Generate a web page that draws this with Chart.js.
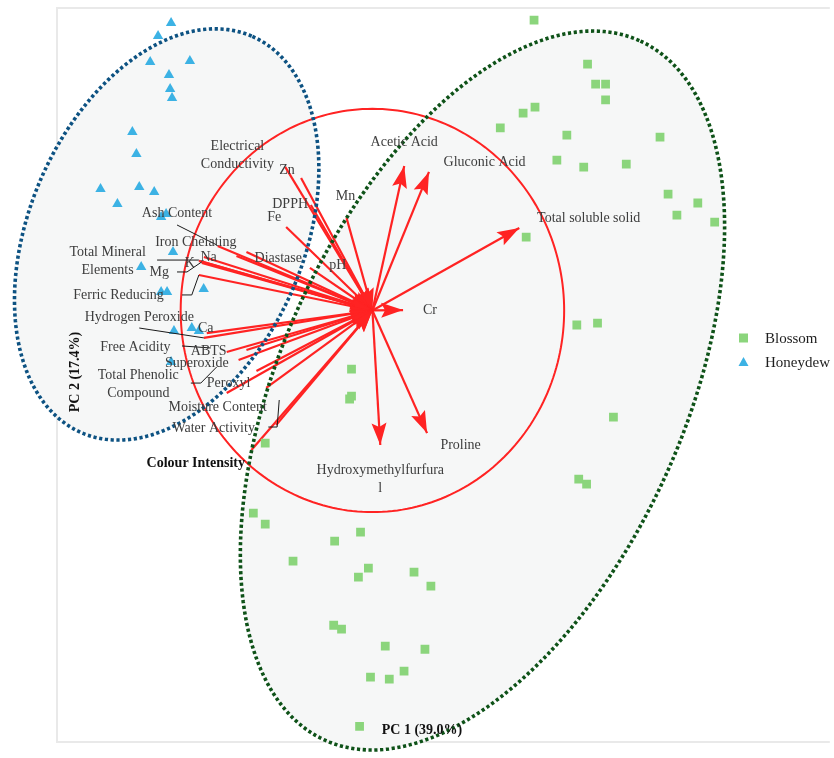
<!DOCTYPE html>
<html>
<head>
<meta charset="utf-8">
<title>PCA biplot – Blossom and Honeydew honey</title>
<script src="https://cdn.jsdelivr.net/npm/chart.js@4/dist/chart.umd.min.js"></script>
<style>
  html, body { margin: 0; padding: 0; background: #ffffff; }
  #wrap { width: 834px; height: 758px; }
</style>
</head>
<body>
<div id="wrap"><canvas id="biplot" width="834" height="758"></canvas></div>
<script>
// ---- Sample scores (PC1, PC2) ----
const blossomPC1 = [0.843, 1.122, 1.164, 1.216, 1.216, 0.786, 0.848, 0.667, 1.014, 1.500,
  0.962, 1.102, 1.324, 1.542, 1.697, 1.588, 1.785, 0.802, 1.066, 1.174,
  1.257, 1.076, 1.117, -0.109, -0.109, -0.119, -0.559, -0.621, -0.559, -0.197,
  -0.062, -0.414, -0.021, -0.073, 0.217, 0.305, -0.202, -0.161, 0.067, 0.274,
  -0.010, 0.088, 0.165, -0.067];
const blossomPC2 = [1.440, 1.222, 1.123, 1.123, 1.044, 0.979, 1.009, 0.905, 0.870, 0.860,
  0.746, 0.711, 0.726, 0.577, 0.533, 0.473, 0.438, 0.364, -0.072, -0.063,
  -0.529, -0.836, -0.861, -0.291, -0.425, -0.439, -0.658, -1.005, -1.060, -1.144,
  -1.099, -1.243, -1.278, -1.322, -1.298, -1.367, -1.561, -1.580, -1.665, -1.680,
  -1.818, -1.828, -1.789, -2.062];

const honeydewPC1 = [-1.050, -1.118, -1.159, -0.952, -1.061, -1.055, -1.045, -1.252, -1.231, -1.418,
  -1.216, -1.138, -1.330, -1.102, -1.076, -1.040, -1.206, -1.102, -1.071, -0.880,
  -1.035, -0.942, -0.905, -1.050];
const honeydewPC2 = [1.426, 1.361, 1.232, 1.237, 1.168, 1.098, 1.054, 0.885, 0.776, 0.602,
  0.612, 0.587, 0.528, 0.463, 0.478, 0.290, 0.215, 0.091, 0.091, 0.106,
  -0.102, -0.087, -0.102, -0.256];

// ---- Variable loadings (PC1, PC2) ----
const variables = ['Zn', 'Electrical Conductivity', 'DPPH', 'Fe', 'Mn', 'pH',
  'Ash Content', 'Iron Chelating', 'Diastase', 'Total Mineral Elements', 'Na', 'K', 'Mg',
  'Ferric Reducing', 'Hydrogen Peroxide', 'Ca', 'Free Acidity', 'ABTS', 'Superoxide',
  'Total Phenolic Compound', 'Peroxyl', 'Moisture Content', 'Water Activity', 'Colour Intensity',
  'Acetic Acid', 'Gluconic Acid', 'Total soluble solid', 'Cr', 'Hydroxymethylfurfural', 'Proline'];
const loadingPC1 = [-0.455, -0.372, -0.321, -0.450, -0.135, -0.326,
  -0.807, -0.709, -0.657, -0.905, -0.879, -0.890, -0.885,
  -0.905, -0.879, -0.864, -0.657, -0.760, -0.698,
  -0.605, -0.760, -0.554, -0.502, -0.631,
  0.166, 0.295, 0.766, 0.160, 0.041, 0.285];
const loadingPC2 = [0.712, 0.657, 0.523, 0.414, 0.459, 0.211,
  0.320, 0.270, 0.290, 0.246, 0.265, 0.236, 0.241,
  0.176, -0.136, -0.112, -0.196, -0.206, -0.246,
  -0.300, -0.409, -0.384, -0.568, -0.692,
  0.717, 0.687, 0.409, 0.002, -0.667, -0.608];

const axisTitles = ['PC 1 (39.0%)', 'PC 2 (17.4%)'];
const groups = ['Blossom', 'Honeydew'];

// ---- Layout of annotations (data units) ----
const labelPlacement = {
  'Electrical Conductivity': { lines: ['Electrical', 'Conductivity'], x: -0.704, y: 0.771 },
  'Zn': { x: -0.445, y: 0.697 },
  'DPPH': { x: -0.429, y: 0.528 },
  'Fe': { x: -0.512, y: 0.464 },
  'Mn': { x: -0.140, y: 0.568 },
  'Ash Content': { x: -1.019, y: 0.484 },
  'Iron Chelating': { x: -0.921, y: 0.340 },
  'Total Mineral Elements': { lines: ['Total Mineral', 'Elements'], x: -1.381, y: 0.243 },
  'Na': { x: -0.854, y: 0.265 },
  'K': { x: -0.952, y: 0.236 },
  'Mg': { x: -1.112, y: 0.191 },
  'Ferric Reducing': { x: -1.324, y: 0.077 },
  'Hydrogen Peroxide': { x: -1.216, y: -0.032 },
  'Ca': { x: -0.869, y: -0.087 },
  'Free Acidity': { x: -1.236, y: -0.181 },
  'ABTS': { x: -0.854, y: -0.201 },
  'Superoxide': { x: -0.916, y: -0.260 },
  'Total Phenolic Compound': { lines: ['Total Phenolic', 'Compound'], x: -1.221, y: -0.365 },
  'Peroxyl': { x: -0.750, y: -0.360 },
  'Moisture Content': { x: -0.807, y: -0.479 },
  'Water Activity': { x: -0.828, y: -0.583 },
  'Colour Intensity': { x: -0.921, y: -0.756, bold: true },
  'Diastase': { x: -0.491, y: 0.260 },
  'pH': { x: -0.181, y: 0.226 },
  'Acetic Acid': { x: 0.166, y: 0.836 },
  'Gluconic Acid': { x: 0.585, y: 0.737 },
  'Total soluble solid': { x: 1.128, y: 0.459 },
  'Cr': { x: 0.300, y: 0.002 },
  'Proline': { x: 0.460, y: -0.667 },
  'Hydroxymethylfurfural': { lines: ['Hydroxymethylfurfura', 'l'], x: 0.041, y: -0.836 }
};

// connector lines between some labels and their vectors
const leaderLines = [
  [[-1.019, 0.424], [-0.812, 0.325]],
  [[-1.123, 0.250], [-0.905, 0.250]],
  [[-1.019, 0.191], [-0.967, 0.191], [-0.890, 0.241]],
  [[-0.993, 0.077], [-0.942, 0.077], [-0.905, 0.176]],
  [[-1.216, -0.087], [-0.879, -0.136]],
  [[-0.993, -0.176], [-0.843, -0.186]],
  [[-0.947, -0.360], [-0.895, -0.360], [-0.812, -0.280]],
  [[-0.543, -0.578], [-0.497, -0.578], [-0.486, -0.444]]
];

// group ellipses: centre plus two conjugate semi-axis vectors
const groupEllipses = [
  { cx: 0.574, cy: -0.397, ux: 0.824, uy: 1.733, vx: 0.957, vy: -0.418, color: '#0e5218' },
  { cx: -1.073, cy: 0.377, ux: 0.447, uy: 0.982, vx: 0.656, vy: -0.275, color: '#0d5282' }
];
const correlationCircle = { cx: 0, cy: 0, ux: 1, uy: 0, vx: 0, vy: 1 };

const RED = '#ff2323';
const SERIF = '"Liberation Serif", "Times New Roman", serif';
const BLOSSOM = '#8bd57c';
const HONEYDEW = '#3cb2e4';

function ellipsePath(ctx, xs, ys, e) {
  ctx.beginPath();
  const n = 240;
  for (let k = 0; k <= n; k++) {
    const t = 2 * Math.PI * k / n;
    const x = e.cx + e.ux * Math.cos(t) + e.vx * Math.sin(t);
    const y = e.cy + e.uy * Math.cos(t) + e.vy * Math.sin(t);
    const px = xs.getPixelForValue(x), py = ys.getPixelForValue(y);
    if (k === 0) ctx.moveTo(px, py); else ctx.lineTo(px, py);
  }
  ctx.closePath();
}

const underlayPlugin = {
  id: 'underlay',
  beforeDatasetsDraw(chart) {
    const { ctx, chartArea: a, scales: { x: xs, y: ys } } = chart;
    ctx.save();
    // frame
    ctx.strokeStyle = '#e9e9e9';
    ctx.lineWidth = 2;
    ctx.beginPath();
    ctx.moveTo(a.right + 2, a.top); ctx.lineTo(a.left, a.top);
    ctx.lineTo(a.left, a.bottom); ctx.lineTo(a.right + 2, a.bottom);
    ctx.stroke();
    // ellipse fills
    ctx.fillStyle = '#f6f7f7';
    groupEllipses.forEach(e => { ellipsePath(ctx, xs, ys, e); ctx.fill(); });
    // correlation circle
    ctx.strokeStyle = RED;
    ctx.lineWidth = 2;
    ellipsePath(ctx, xs, ys, correlationCircle);
    ctx.stroke();
    ctx.restore();
  }
};

const overlayPlugin = {
  id: 'overlay',
  afterDatasetsDraw(chart) {
    const { ctx, scales: { x: xs, y: ys } } = chart;
    const X = v => xs.getPixelForValue(v), Y = v => ys.getPixelForValue(v);
    ctx.save();
    // arrowheads: outward for positive PC1 loadings, inward otherwise
    ctx.fillStyle = RED;
    const ox = X(0), oy = Y(0);
    variables.forEach((name, i) => {
      const tx = X(loadingPC1[i]), ty = Y(loadingPC2[i]);
      let hx, hy, dx, dy;
      if (loadingPC1[i] > 0) { hx = tx; hy = ty; dx = tx - ox; dy = ty - oy; }
      else { hx = ox; hy = oy; dx = ox - tx; dy = oy - ty; }
      const len = Math.hypot(dx, dy);
      const ux = dx / len, uy = dy / len;
      const L = 22, W = 7.5;
      ctx.beginPath();
      ctx.moveTo(hx, hy);
      ctx.lineTo(hx - ux * L - uy * W, hy - uy * L + ux * W);
      ctx.lineTo(hx - ux * L * 0.82, hy - uy * L * 0.82);
      ctx.lineTo(hx - ux * L + uy * W, hy - uy * L - ux * W);
      ctx.closePath();
      ctx.fill();
    });
    // dotted group ellipses
    ctx.lineWidth = 3.6;
    ctx.setLineDash([3.2, 2.6]);
    groupEllipses.forEach(e => {
      ctx.strokeStyle = e.color;
      ellipsePath(ctx, xs, ys, e);
      ctx.stroke();
    });
    ctx.setLineDash([]);
    // connector lines
    ctx.strokeStyle = '#1a1a1a';
    ctx.lineWidth = 1;
    leaderLines.forEach(pts => {
      ctx.beginPath();
      pts.forEach((p, k) => { if (k === 0) ctx.moveTo(X(p[0]), Y(p[1])); else ctx.lineTo(X(p[0]), Y(p[1])); });
      ctx.stroke();
    });
    // variable labels
    ctx.textAlign = 'center';
    ctx.textBaseline = 'middle';
    variables.forEach(name => {
      const p = labelPlacement[name];
      if (!p) return;
      const lines = p.lines || [name];
      ctx.font = (p.bold ? 'bold 14px ' : '14px ') + SERIF;
      ctx.fillStyle = p.bold ? '#111111' : '#3d3d3d';
      const lh = 18;
      lines.forEach((t, k) => {
        ctx.fillText(t, X(p.x), Y(p.y) + (k - (lines.length - 1) / 2) * lh);
      });
    });
    // axis titles
    ctx.fillStyle = '#111111';
    ctx.font = 'bold 14px ' + SERIF;
    ctx.fillText(axisTitles[0], 422, 730);
    ctx.save();
    ctx.translate(75, 372);
    ctx.rotate(-Math.PI / 2);
    ctx.fillText(axisTitles[1], 0, 0);
    ctx.restore();
    // legend
    ctx.textAlign = 'left';
    ctx.font = '15px ' + SERIF;
    const legendY = [338, 362];
    ctx.fillStyle = BLOSSOM;
    ctx.fillRect(739, legendY[0] - 4.5, 9, 9);
    ctx.fillStyle = HONEYDEW;
    ctx.beginPath();
    ctx.moveTo(743.5, legendY[1] - 5); ctx.lineTo(748.5, legendY[1] + 4); ctx.lineTo(738.5, legendY[1] + 4);
    ctx.closePath(); ctx.fill();
    ctx.fillStyle = '#1e1e1e';
    ctx.fillText(groups[0], 765, legendY[0] + 1);
    ctx.fillText(groups[1], 765, legendY[1] + 1);
    ctx.restore();
  }
};

const vectorDatasets = variables.map((name, i) => ({
  label: name,
  data: [{ x: 0, y: 0 }, { x: loadingPC1[i], y: loadingPC2[i] }],
  showLine: true,
  borderColor: RED,
  borderWidth: 2.2,
  pointRadius: 0,
  clip: false
}));

new Chart(document.getElementById('biplot'), {
  type: 'scatter',
  data: {
    datasets: [
      {
        label: groups[0],
        data: blossomPC1.map((v, i) => ({ x: v, y: blossomPC2[i] })),
        pointStyle: 'rect',
        pointRadius: 6.2,
        backgroundColor: BLOSSOM,
        borderWidth: 0
      },
      {
        label: groups[1],
        data: honeydewPC1.map((v, i) => ({ x: v, y: honeydewPC2[i] })),
        pointStyle: 'triangle',
        pointRadius: 6,
        backgroundColor: HONEYDEW,
        borderWidth: 0
      },
      ...vectorDatasets
    ]
  },
  options: {
    responsive: false,
    animation: false,
    layout: { padding: { left: 57, top: 8, right: 0, bottom: 16 } },
    scales: {
      x: { type: 'linear', min: -1.645, max: 2.375, display: false },
      y: { type: 'linear', min: -2.14, max: 1.5, display: false }
    },
    plugins: { legend: { display: false }, tooltip: { enabled: false } }
  },
  plugins: [underlayPlugin, overlayPlugin]
});
</script>
</body>
</html>
